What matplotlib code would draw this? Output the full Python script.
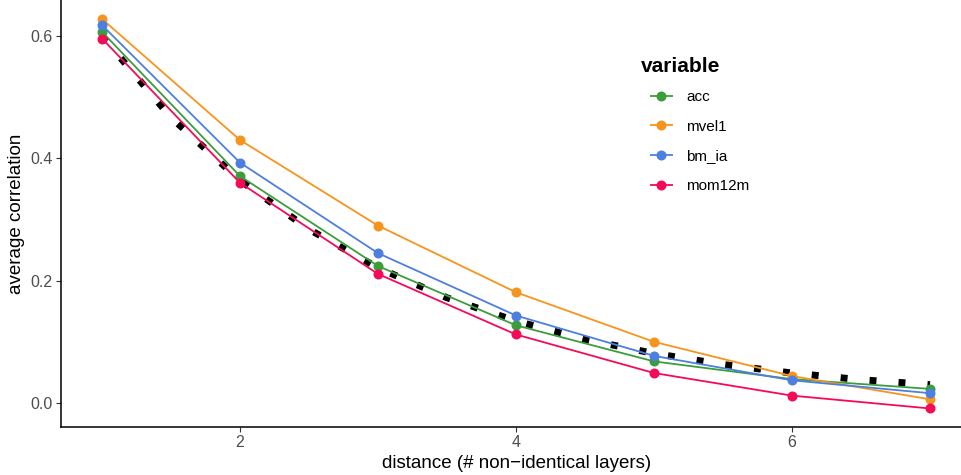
import matplotlib.pyplot as plt

plt.rcParams['font.family'] = ['Liberation Sans', 'DejaVu Sans']

# average correlation per distance, one series per variable
distance = [1, 2, 3, 4, 5, 6, 7]
acc = [0.607, 0.371, 0.224, 0.127, 0.068, 0.039, 0.023]
mvel1 = [0.628, 0.430, 0.290, 0.181, 0.100, 0.044, 0.006]
bm_ia = [0.618, 0.393, 0.245, 0.143, 0.077, 0.037, 0.016]
mom12m = [0.596, 0.360, 0.211, 0.112, 0.049, 0.012, -0.009]

# reference decay curve (dotted)
ref_x = [1, 1.5, 2, 2.5, 3, 3.5, 4, 4.5, 5, 5.5, 6, 6.5, 7]
ref_y = [0.600, 0.467, 0.364, 0.284, 0.221, 0.172, 0.134, 0.104, 0.081, 0.063, 0.049, 0.038, 0.030]

series = [("acc", acc, "#3a9e3a"),
          ("mvel1", mvel1, "#f7941d"),
          ("bm_ia", bm_ia, "#4d7fe0"),
          ("mom12m", mom12m, "#f50a57")]

fig = plt.figure(figsize=(9.62, 4.75), dpi=100)
ax = fig.add_axes([61 / 962, 48 / 475, 901 / 962, 427 / 475])

for name, vals, col in series:
    ax.plot(distance, vals, color=col, lw=1.3, marker="o", ms=6.2,
            label=name, zorder=3, solid_capstyle="butt")

ax.plot(ref_x, ref_y, color="black", lw=5.0, linestyle=(0, (1, 3.18)),
        dash_capstyle="butt", zorder=2)

ax.set_xlim(0.703, 7.232)
ax.set_ylim(-0.0393, 0.659)
ax.set_xticks([2, 4, 6])
ax.set_yticks([0.0, 0.2, 0.4, 0.6])
ax.set_yticklabels(["0.0", "0.2", "0.4", "0.6"])

for s in ["top", "right"]:
    ax.spines[s].set_visible(False)
for s in ["left", "bottom"]:
    ax.spines[s].set_linewidth(1.1)
    ax.spines[s].set_color("black")
ax.tick_params(length=3.5, width=0.8, color="#333333", labelcolor="#4d4d4d",
               labelsize=11.5, pad=2.5)

ax.set_xlabel("distance (# non\u2212identical layers)", fontsize=13.5, labelpad=2)
ax.xaxis.set_label_coords((516.5 - 61) / 901, -0.065)
ax.set_ylabel("average correlation", fontsize=13.5, labelpad=4)

# legend: title placed on its own, keys indented below it
fig.text(641 / 962, 1 - 67 / 475, "variable", fontsize=15, weight="bold",
         va="center", ha="left")
ax.legend(loc="upper left", bbox_to_anchor=(650 / 962, 1 - 90 / 475),
          bbox_transform=fig.transFigure, frameon=False, fontsize=11,
          handlelength=1.5, handletextpad=0.85, labelspacing=1.03,
          borderaxespad=0, borderpad=0)

fig.savefig("out.png", dpi=100)
